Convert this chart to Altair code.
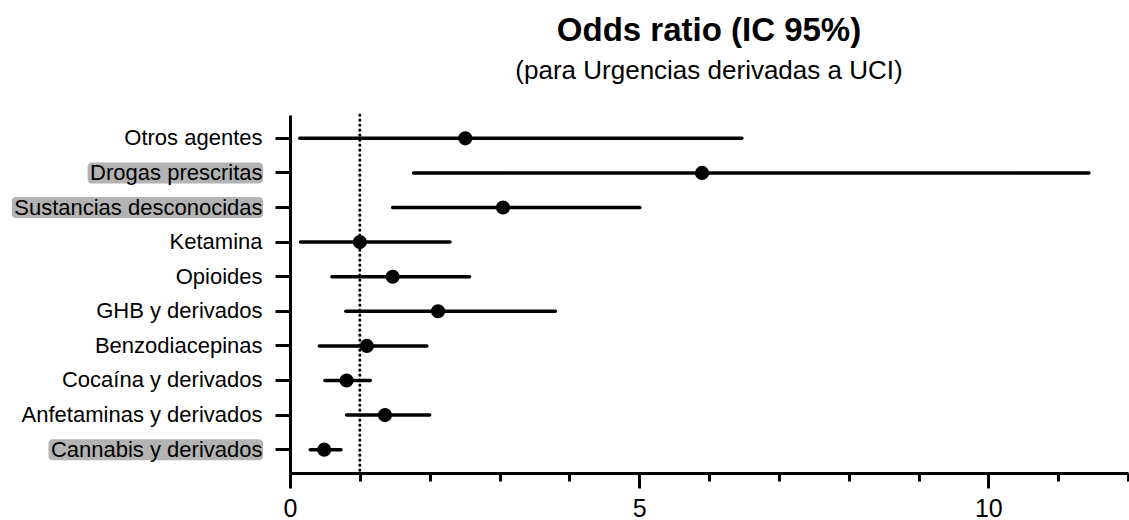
import altair as alt
import pandas as pd

# ---------------- data ----------------
categories = [
    "Otros agentes",
    "Drogas prescritas",
    "Sustancias desconocidas",
    "Ketamina",
    "Opioides",
    "GHB y derivados",
    "Benzodiacepinas",
    "Cocaína y derivados",
    "Anfetaminas y derivados",
    "Cannabis y derivados",
]
odds_ratio = [2.51, 5.90, 3.05, 1.00, 1.47, 2.12, 1.10, 0.81, 1.36, 0.49]
ci_low = [0.14, 1.77, 1.47, 0.15, 0.60, 0.80, 0.42, 0.50, 0.81, 0.29]
ci_high = [6.47, 11.44, 5.01, 2.29, 2.57, 3.80, 1.96, 1.15, 2.00, 0.73]
highlighted = [False, True, True, False, False, False, False, False, False, True]
reference_or = 1
x_tick_values = list(range(0, 13))

# ---------------- styling ----------------
FONT = "Liberation Sans"
LABEL_SIZE = 22
LABEL_OFFSET = 28  # tick length + label padding (px)

# Arial / Liberation Sans advance widths (per 1000 em), used to size the label highlight
_W = {
    "a": 556, "b": 556, "c": 500, "d": 556, "e": 556, "f": 278, "g": 556, "h": 556,
    "i": 222, "j": 222, "k": 500, "l": 222, "m": 833, "n": 556, "o": 556, "p": 556,
    "q": 556, "r": 333, "s": 500, "t": 278, "u": 556, "v": 500, "w": 722, "x": 500,
    "y": 500, "z": 500, "í": 278, " ": 278, "A": 667, "B": 667, "C": 722, "D": 722,
    "G": 778, "H": 722, "K": 667, "O": 778, "S": 667,
}


def text_width(s, size):
    return sum(_W.get(ch, 556) for ch in s) / 1000.0 * size


df = pd.DataFrame(
    {
        "category": categories,
        "or": odds_ratio,
        "lo": ci_low,
        "hi": ci_high,
        "hl": highlighted,
    }
)
df["hx0"] = [-LABEL_OFFSET - text_width(c, LABEL_SIZE) - 2 for c in categories]
df["hx1"] = -LABEL_OFFSET + 1

y_enc = alt.Y(
    "category:N",
    sort=categories,
    scale=alt.Scale(paddingInner=0, paddingOuter=0.175),
    axis=alt.Axis(
        title=None,
        domainWidth=3,
        tickWidth=3,
        tickSize=15,
        labelFontSize=LABEL_SIZE,
        labelPadding=13,
        labelFont=FONT,
        labelLimit=0,
        zindex=1,
    ),
)

x_scale = alt.Scale(domain=[0, 12], nice=False, zero=False)
x_axis = alt.Axis(
    title=None,
    values=x_tick_values,
    tickSize={"condition": {"test": "datum.value % 5 === 0", "value": 15}, "value": 8},
    labelExpr="datum.value % 5 === 0 ? datum.label : ''",
    tickWidth=3,
    domainWidth=3,
    labelFontSize=25,
    labelPadding=8,
    labelFlush=False,
    labelFont=FONT,
    zindex=1,
)

base = alt.Chart(df)

highlight = base.transform_filter("datum.hl").mark_rect(
    color="#b3b3b3", height=21, cornerRadius=4
).encode(
    x=alt.X("hx0:Q", scale=None),
    x2="hx1:Q",
    y=y_enc,
)

ref = alt.Chart(pd.DataFrame({"ref": [reference_or]})).mark_rule(
    color="black", strokeWidth=3, strokeDash=[0.3, 4.7], strokeCap="round"
).encode(x=alt.X("ref:Q", scale=x_scale, axis=x_axis))

bars = base.mark_rule(color="black", strokeWidth=3.5, strokeCap="round").encode(
    x=alt.X("lo:Q", scale=x_scale, axis=x_axis),
    x2="hi:Q",
    y=y_enc,
)

points = base.mark_circle(color="black", size=200, opacity=1).encode(
    x=alt.X("or:Q", scale=x_scale, axis=x_axis),
    y=y_enc,
)

chart = (
    alt.layer(highlight, ref, bars, points)
    .properties(
        width=838,
        height=358,
        padding={"left": 290, "top": 115, "right": 1, "bottom": 47},
        autosize=alt.AutoSizeParams(type="none"),
        title=alt.TitleParams(
            text="Odds ratio (IC 95%)",
            subtitle="(para Urgencias derivadas a UCI)",
            font=FONT,
            fontSize=33,
            fontWeight="bold",
            color="black",
            subtitleFont=FONT,
            subtitleFontSize=26,
            subtitleColor="black",
            subtitlePadding=10,
            anchor="middle",
            offset=30,
        ),
    )
    .configure_view(strokeWidth=0)
    .configure_axis(
        domainColor="black",
        tickColor="black",
        labelColor="black",
        grid=False,
    )
)

chart.save("out.html", embed_options={"renderer": "svg", "actions": False})
